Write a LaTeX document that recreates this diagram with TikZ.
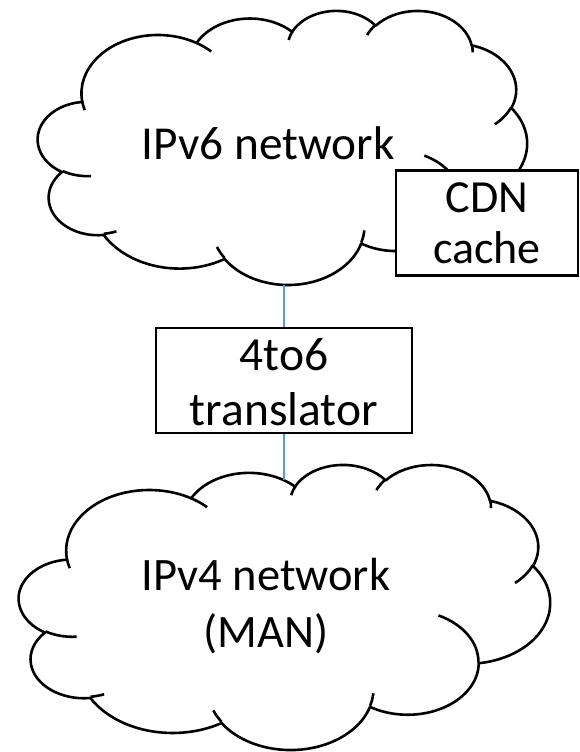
\documentclass[tikz,border=0pt]{standalone}
\usepackage{fontspec}
\setmainfont{Carlito}
\definecolor{linkblue}{HTML}{5B9BD5}

% one arc of a DrawingML-style cloud: wR, hR, start angle, sweep (visual angles)
\newcommand\cldarc[4]{%
  \pgfmathsetmacro\clts{atan2((#1)*sin(#3),(#2)*cos(#3))}%
  \pgfmathsetmacro\clte{atan2((#1)*sin((#3)+(#4)),(#2)*cos((#3)+(#4)))}%
  \pgfmathsetmacro\cldd{(\clte)-(\clts)}%
  \pgfmathsetmacro\cldd{(\cldd)+360*round(((#4)-(\cldd))/360)}%
  \pgfmathsetmacro\clte{(\clts)+(\cldd)}%
  \pgfpatharcaxes{\clts}{\clte}{\pgfpointxy{#1}{0}}{\pgfpointxy{0}{#2}}%
}
\newcommand\cldoutline{%
  \pgfpathmoveto{\pgfpointxy{39.00}{143.70}}%
  \cldarc{67.53}{91.90}{-190.48748}{123.78053}%
  \cldarc{53.33}{72.67}{-144.10238}{89.94523}%
  \cldarc{43.65}{59.45}{-145.80792}{99.72302}%
  \cldarc{48.57}{65.95}{-130.98607}{117.24173}%
  \cldarc{53.33}{72.73}{-78.70888}{109.02692}%
  \cldarc{67.75}{92.20}{-46.26725}{130.26900}%
  \cldarc{57.85}{78.67}{0.62502}{114.03333}%
  \cldarc{67.52}{92.15}{22.45160}{115.17255}%
  \cldarc{77.20}{105.43}{66.24263}{75.71102}%
  \cldarc{43.60}{59.18}{-274.94208}{146.73557}%
  \cldarc{43.45}{59.45}{-246.82850}{152.51885}%
  \pgfpathclose
}
\newcommand\cldinner{%
  \pgfpathmoveto{\pgfpointxy{46.93}{261.77}}\cldarc{43.45}{59.45}{86.74200}{26.42950}%
  \pgfpathmoveto{\pgfpointxy{69.28}{348.99}}\cldarc{43.60}{59.18}{73.61047}{11.44747}%
  \pgfpathmoveto{\pgfpointxy{164.78}{390.90}}\cldarc{67.52}{92.15}{137.62415}{14.08110}%
  \pgfpathmoveto{\pgfpointxy{288.27}{347.51}}\cldarc{67.52}{92.15}{6.45327}{15.99835}%
  \pgfpathmoveto{\pgfpointxy{341.29}{229.54}}\cldarc{57.85}{78.67}{-70.29235}{70.91737}%
  \pgfpathmoveto{\pgfpointxy{417.98}{153.54}}\cldarc{53.33}{72.73}{30.31803}{27.75150}%
  \pgfpathmoveto{\pgfpointxy{383.24}{54.26}}\cldarc{48.57}{65.95}{-13.74433}{14.85890}%
  \pgfpathmoveto{\pgfpointxy{290.78}{39.52}}\cldarc{48.57}{65.95}{-149.18145}{18.19537}%
  \pgfpathmoveto{\pgfpointxy{221.41}{47.20}}\cldarc{43.65}{59.45}{-163.49427}{17.68635}%
  \pgfpathmoveto{\pgfpointxy{140.00}{51.92}}\cldarc{67.53}{91.90}{-66.70695}{12.31935}%
  \pgfpathmoveto{\pgfpointxy{41.27}{157.89}}\cldarc{67.53}{91.90}{157.65435}{11.85817}%
}
% x0, y0 (top left), x unit, y unit (cloud box = 432 units square)
\newcommand\drawcloud[4]{%
  \begin{scope}[shift={(#1,#2)}, x=#3pt, y=-#4pt]
    \pgfsetlinewidth{2.6pt}%
    \pgfsetroundjoin
    \pgfsetstrokecolor{black}%
    \pgfsetfillcolor{white}%
    \cldoutline\pgfusepath{fill,stroke}%
    \cldinner\pgfusepath{stroke}%
  \end{scope}
}

\tikzset{
  boxnode/.style={draw=black, line width=2.6pt, fill=white, rectangle,
    inner sep=0pt, align=center, text depth=0pt},
  link/.style={draw=linkblue, line width=1.3pt},
  cloudtext/.style={inner sep=0pt, align=center, anchor=base},
}

\begin{document}
\begin{tikzpicture}[x=1pt, y=-1pt]
  \useasboundingbox (0,0) rectangle (579,752);
  \fill[white] (0,0) rectangle (579,752);

  % clouds
  \drawcloud{38}{10}{1.13194}{0.63426}
  \drawcloud{19}{464}{1.22917}{0.65972}

  % boxes
  \node[boxnode, minimum width=256pt, minimum height=105pt, text height=89.6pt,
        font=\fontsize{47.5}{54.6}\selectfont] (trans) at (284,380.5) {4to6\\translator};
  \node[boxnode, minimum width=182pt, minimum height=105pt, text height=80pt,
        font=\fontsize{46}{50.3}\selectfont] (cdn) at (487,223) {CDN\\cache};

  % cloud labels
  \node[cloudtext, font=\fontsize{47.3}{57}\selectfont] (v6txt) at (268.3,159.3) {IPv6 network};
  \node[cloudtext, font=\fontsize{46.5}{57}\selectfont] (v4txt) at (266,647) {IPv4 network\\(MAN)};

  % connectors
  \coordinate (v6S) at (284,284.5);
  \coordinate (v4N) at (284,479.5);
  \draw[link] (v6S) -- (trans.north);
  \draw[link] (trans.south) -- (v4N);
\end{tikzpicture}
\end{document}
